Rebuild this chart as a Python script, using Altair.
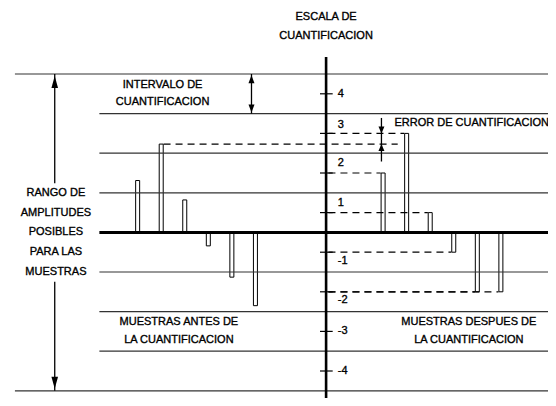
import altair as alt
import pandas as pd

# ---------------- data ----------------
# sample positions (in sample-spacing units, quantisation axis at 0)
before_pos = [-8, -7, -6, -5, -4, -3]
before_amp = [1.31, 2.23, 0.82, -0.34, -1.13, -1.85]
after_pos = [2.42, 3.42, 4.42, 5.42, 6.42, 7.42]
after_amp = [1.5, 2.5, 0.5, -0.5, -1.5, -1.5]

# decision boundaries (solid lines) and quantisation levels (ticks)
boundaries = [-4, -3, -2, -1, 0, 1, 2, 3, 4]
level_amp = [3.5, 2.5, 1.5, 0.5, -0.5, -1.5, -2.5, -3.5]
level_labels = ["4", "3", "2", "1", "-1", "-2", "-3", "-4"]

title_lines = ["ESCALA DE", "CUANTIFICACION"]
interval_lines = ["INTERVALO DE", "CUANTIFICACION"]
range_lines = ["RANGO DE", "AMPLITUDES", "POSIBLES", "PARA LAS", "MUESTRAS"]
before_lines = ["MUESTRAS ANTES DE", "LA CUANTIFICACION"]
after_lines = ["MUESTRAS DESPUES DE", "LA CUANTIFICACION"]
error_label = "ERROR DE CUANTIFICACION"

# ---------------- layout ----------------
W, H = 540, 390
xs = alt.Scale(domain=[-13.2917, 9.2083], nice=False, zero=False)
ys = alt.Scale(domain=[-4.1818, 5.6667], nice=False, zero=False)
FONT = "Liberation Sans"
FS = 11

X_OUTER, X_INNER, X_END = -13.21, -9.625, 9.8
U_RANGE_ARROW = -11.52
U_INTERVAL_ARROW = -3.167
U_ERROR_ARROW = 2.35


def hrules(df, **kw):
    return alt.Chart(df).mark_rule(**kw).encode(
        x=alt.X("u:Q", scale=xs, axis=None),
        x2="u2:Q",
        y=alt.Y("v:Q", scale=ys, axis=None),
    )


def vrules(df, **kw):
    return alt.Chart(df).mark_rule(**kw).encode(
        x=alt.X("u:Q", scale=xs, axis=None),
        y=alt.Y("v:Q", scale=ys, axis=None),
        y2="v2:Q",
    )


def heads(df, up, size, half_w, off):
    if up:
        path = f"M0,-1L{half_w},1L-{half_w},1Z"
    else:
        path = f"M0,1L{half_w},-1L-{half_w},-1Z"
    return alt.Chart(df).mark_point(
        shape=path, size=size, filled=True, color="black", opacity=1,
        strokeWidth=0, yOffset=off if up else -off,
    ).encode(
        x=alt.X("u:Q", scale=xs, axis=None),
        y=alt.Y("v:Q", scale=ys, axis=None),
    )


def texts(rows, align="center"):
    df = pd.DataFrame(rows, columns=["t", "u", "v"])
    return alt.Chart(df).mark_text(
        font=FONT, fontSize=FS, color="black", align=align, baseline="middle",
        stroke="black", strokeWidth=0.35,
    ).encode(
        x=alt.X("u:Q", scale=xs, axis=None),
        y=alt.Y("v:Q", scale=ys, axis=None),
        text="t:N",
    )


# bars (samples)
bars_df = pd.DataFrame({
    "u": before_pos + after_pos,
    "v": before_amp + after_amp,
    "z": [0] * (len(before_pos) + len(after_pos)),
})
bars = alt.Chart(bars_df).mark_bar(
    size=4, fill="white", stroke="black", strokeWidth=1, orient="vertical"
).encode(
    x=alt.X("u:Q", scale=xs, axis=None),
    y=alt.Y("v:Q", scale=ys, axis=None),
    y2="z:Q",
)

# solid horizontal lines
thin_rows = []
for b in boundaries:
    if b == 0:
        continue
    start = X_OUTER if abs(b) == 4 else X_INNER
    thin_rows.append({"u": start, "u2": X_END, "v": b})
thin = hrules(pd.DataFrame(thin_rows), color="#333333", strokeWidth=1.2)
zero = hrules(pd.DataFrame([{"u": X_INNER, "u2": X_END, "v": 0}]),
              color="black", strokeWidth=3)

# dashed lines
dash_rows = [{"u": before_pos[1] + 0.1, "u2": 3.04, "v": before_amp[1]}]
for p, a in zip(after_pos, after_amp):
    dash_rows.append({"u": 0.1, "u2": p - 0.1, "v": a})
dashed = hrules(pd.DataFrame(dash_rows), color="black", strokeWidth=1.2,
                strokeDash=[7, 5])

# level ticks
ticks = hrules(pd.DataFrame({"u": [-0.26] * 8, "u2": [0.28] * 8, "v": level_amp}),
               color="black", strokeWidth=1.2)

# vertical lines
axis_line = vrules(pd.DataFrame([{"u": 0, "v": 4.43, "v2": -4.6}]),
                   color="black", strokeWidth=2.6)
arrow_lines = vrules(pd.DataFrame([
    {"u": U_RANGE_ARROW, "v": 4, "v2": 1.24},
    {"u": U_RANGE_ARROW, "v": -1.245, "v2": -4},
    {"u": U_INTERVAL_ARROW, "v": 4, "v2": 3},
    {"u": U_ERROR_ARROW, "v": 2.89, "v2": 1.79},
]), color="black", strokeWidth=1.3)

up_big = heads(pd.DataFrame([{"u": U_RANGE_ARROW, "v": 3.95}]), True, 144, 0.55, 6)
dn_big = heads(pd.DataFrame([{"u": U_RANGE_ARROW, "v": -3.95}]), False, 144, 0.55, 6)
up_int = heads(pd.DataFrame([{"u": U_INTERVAL_ARROW, "v": 3.97}]), True, 64, 0.75, 4)
dn_int = heads(pd.DataFrame([{"u": U_INTERVAL_ARROW, "v": 3.03}]), False, 64, 0.75, 4)
dn_err = heads(pd.DataFrame([{"u": U_ERROR_ARROW, "v": after_amp[1]}]), False, 49, 0.85, 3.5)
up_err = heads(pd.DataFrame([{"u": U_ERROR_ARROW, "v": before_amp[1]}]), True, 49, 0.85, 3.5)

# tick labels
lab_off = {"4": 0, "3": 0.21, "2": 0.24, "1": 0.24, "-1": -0.22, "-2": -0.2,
           "-3": 0, "-4": 0}
tick_labels = texts([(t, 0.5, a + lab_off[t]) for t, a in zip(level_labels, level_amp)],
                    align="left")

center_rows = []
for t, v in zip(title_lines, [5.43, 4.97]):
    center_rows.append((t, 0.0, v))
for t, v in zip(interval_lines, [3.72, 3.29]):
    center_rows.append((t, -6.94, v))
for t, v in zip(range_lines, [1.0, 0.5, 0.0, -0.5, -1.0]):
    center_rows.append((t, U_RANGE_ARROW + 0.05, v))
for t, v in zip(before_lines, [-2.26, -2.71]):
    center_rows.append((t, -6.25, v))
for t, v in zip(after_lines, [-2.26, -2.71]):
    center_rows.append((t, 6.06, v))
center_text = texts(center_rows)
err_text = texts([(error_label, 2.9, 2.76)], align="left")

chart = alt.layer(
    bars, thin, dashed, zero, ticks, axis_line, arrow_lines,
    up_big, dn_big, up_int, dn_int, dn_err, up_err,
    tick_labels, center_text, err_text,
).properties(
    width=W, height=H,
    autosize=alt.AutoSizeParams(type="none"),
    padding=0,
).configure_view(stroke=None)

chart.save("out.html", embed_options={"renderer": "svg", "actions": False})
